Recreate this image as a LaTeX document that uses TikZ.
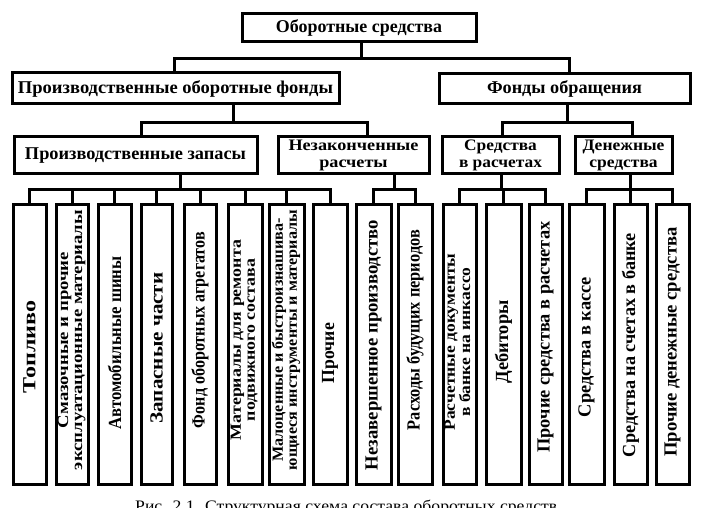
\documentclass[tikz,border=0pt]{standalone}
\usepackage{fontspec}
\setmainfont{Liberation Serif}
\usepackage{graphicx}
\newcommand\fitw[2]{\resizebox{#1}{\height}{#2}}
\newcommand\twol[2]{\begin{tabular}{@{}c@{}}#1\\#2\end{tabular}}
\tikzset{
 box/.style={draw, line width=3pt, inner sep=0pt, fill=white},
 conn/.style={line width=3pt},
 htxt/.style={font=\fontsize{18pt}{16pt}\selectfont\bfseries},
 htxtt/.style={font=\fontsize{16pt}{16.6pt}\selectfont\bfseries},
 vtxt/.style={rotate=90, inner sep=0pt, font=\fontsize{18.5pt}{15pt}\selectfont\bfseries},
 vtxtt/.style={rotate=90, inner sep=0pt, font=\fontsize{15.5pt}{14pt}\selectfont\bfseries},
}
\begin{document}
\begin{tikzpicture}[x=1pt,y=-1pt]
\useasboundingbox (0,0) rectangle (718,508);
\clip (0,0) rectangle (718,508);
\fill[white] (0,0) rectangle (718,508);

% level 0 / 1 / 2 boxes
\node[box,htxt,minimum width=234pt,minimum height=28pt] (top) at (359,28) {\fitw{166pt}{Оборотные средства}};
\node[box,htxt,minimum width=327pt,minimum height=31pt] (pof) at (175.5,88.5) {\fitw{315pt}{Производственные оборотные фонды}};
\node[box,htxt,minimum width=251pt,minimum height=30pt] (fo) at (564.5,89) {\fitw{155pt}{Фонды обращения}};
\node[box,htxt,minimum width=243pt,minimum height=37pt] (pz) at (135.5,155.5) {\fitw{221pt}{Производственные запасы}};
\node[box,htxtt,minimum width=151pt,minimum height=37pt] (nr) at (353.5,155.5) {\fitw{130pt}{\twol{Незаконченные}{расчеты}}};
\node[box,htxtt,minimum width=117pt,minimum height=37pt] (svr) at (500.5,155.5) {\fitw{83pt}{\twol{Средства}{в расчетах}}};
\node[box,htxtt,minimum width=97pt,minimum height=37pt] (ds) at (623.5,155.5) {\fitw{82pt}{\twol{Денежные}{средства}}};

% bottom boxes
\foreach \n/\cx/\w in {b1/29.5/33, b2/72/32, b3/114.5/33, b4/156.5/31, b5/200/32, b6/245/34, b7/286.5/35, b8/330/34, b9/373.5/35, b10/415/34, b11/459.5/33, b12/503.5/35, b13/545.5/33, b14/586.5/35, b15/630.5/33, b16/672.5/33}
  \node[box,minimum width=\w pt,minimum height=279pt] (\n) at (\cx,344.5) {};

% vertical labels
\node[vtxt] (t1) at (29.5,347) {\fitw{93pt}{Топливо}};
\node[vtxtt] (t2) at (72,340) {\fitw{260pt}{\twol{Смазочные и прочие}{эксплуатационные материалы}}};
\node[vtxt] (t3) at (114.5,343) {\fitw{173pt}{Автомобильные шины}};
\node[vtxt] (t4) at (156.5,348) {\fitw{151pt}{Запасные части}};
\node[vtxt] (t5) at (200,330) {\fitw{196pt}{Фонд оборотных агрегатов}};
\node[vtxtt] (t6) at (245,340) {\fitw{200pt}{\twol{Материалы для ремонта}{подвижного состава}}};
\node[vtxtt] (t7) at (286.5,340) {\fitw{260pt}{\twol{Малоценные и быстроизнашива-}{ющиеся инструменты и материалы}}};
\node[vtxt] (t8) at (330,353) {\fitw{60pt}{Прочие}};
\node[vtxt] (t9) at (373.5,345) {\fitw{250pt}{Незавершенное производство}};
\node[vtxt] (t10) at (415,330) {\fitw{200pt}{Расходы будущих периодов}};
\node[vtxtt] (t11) at (459.5,342) {\fitw{177pt}{\twol{Расчетные документы}{в банке на инкассо}}};
\node[vtxt] (t12) at (503.5,342) {\fitw{83pt}{Дебиторы}};
\node[vtxt] (t13) at (545.5,337) {\fitw{231pt}{Прочие средства в расчетах}};
\node[vtxt] (t14) at (586.5,347) {\fitw{140pt}{Средства в кассе}};
\node[vtxt] (t15) at (630.5,345) {\fitw{224pt}{Средства на счетах в банке}};
\node[vtxt] (t16) at (672.5,342) {\fitw{229pt}{Прочие денежные средства}};

% connectors
\coordinate (j0) at (361,59);
\coordinate (j1) at (233,123);
\coordinate (j2) at (567,123);
\coordinate (j3) at (180,190);
\coordinate (j4) at (394,190);
\coordinate (j5) at (501,190);
\coordinate (j6) at (630,190);

\draw[conn] (top.south -| j0) -- (j0);
\draw[conn] ([xshift=-1.5pt]pof.north) |- (j0) -| ([xshift=4.5pt]fo.north);
\draw[conn] (pof.south -| j1) -- (j1);
\draw[conn] ([xshift=5.5pt]pz.north) |- (j1) -| ([xshift=13.5pt]nr.north);
\draw[conn] (fo.south -| j2) -- (j2);
\draw[conn] ([xshift=1.5pt]svr.north) |- (j2) -| ([xshift=8.5pt]ds.north);

\draw[conn] (pz.south -| j3) -- (j3);
\draw[conn] (b1.north) |- (j3) -| (b8.north);
\foreach \n in {b2,b3,b4,b5,b6,b7}
  \draw[conn] (\n.north) -- (\n.north |- j3);
\draw[conn] (nr.south -| j4) -- (j4);
\draw[conn] (b9.north) |- (j4) -| (b10.north);
\draw[conn] (svr.south -| j5) -- (j5);
\draw[conn] (b11.north) |- (j5) -| (b13.north);
\draw[conn] (b12.north) -- (b12.north |- j5);
\draw[conn] (ds.south -| j6) -- (j6);
\draw[conn] (b14.north) |- (j6) -| (b16.north);
\draw[conn] (b15.north) -- (b15.north |- j6);

% caption (cut off at the bottom edge, as in the reference)
\node[anchor=base west,inner sep=0pt,font=\fontsize{16pt}{18pt}\selectfont] (cap) at (135,511) {\fitw{422pt}{Рис. 2.1. Структурная схема состава оборотных средств}};
\end{tikzpicture}
\end{document}
